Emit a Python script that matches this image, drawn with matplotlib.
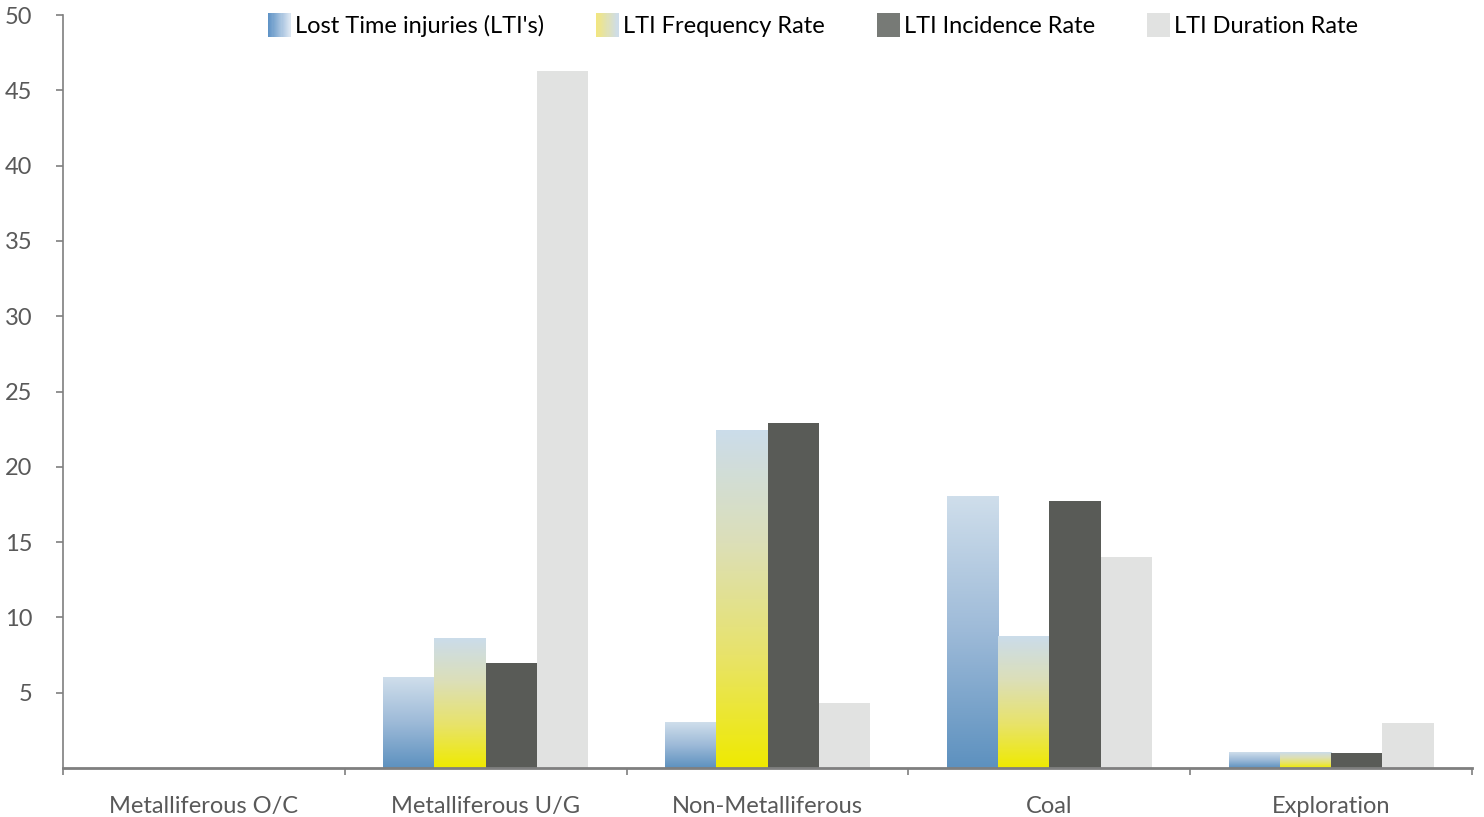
import matplotlib.pyplot as plt
import numpy as np
from matplotlib.colors import LinearSegmentedColormap
from matplotlib.legend_handler import HandlerBase
from matplotlib.patches import Rectangle

plt.rcParams['font.family'] = ['Lato', 'DejaVu Sans']

categories = ['Metalliferous O/C', 'Metalliferous U/G', 'Non-Metalliferous', 'Coal', 'Exploration']
series_names = ["Lost Time injuries (LTI's)", 'LTI Frequency Rate', 'LTI Incidence Rate', 'LTI Duration Rate']
lti = [0, 6.0, 3.0, 18.0, 1.0]
freq = [0, 8.6, 22.4, 8.7, 1.0]
incidence = [0, 7.0, 22.9, 17.7, 1.0]
duration = [0, 46.3, 4.3, 14.0, 3.0]

cmap_lti = LinearSegmentedColormap.from_list('lti', ['#5d91bf', '#9dbad8', '#cfdeeb'])
cmap_freq = LinearSegmentedColormap.from_list('freq', ['#efea00', '#e8e36a', '#dcdfb8', '#cbdcea'])
leg_lti = LinearSegmentedColormap.from_list('leg_lti', ['#5f93c6', '#dae5f1'])
leg_freq = LinearSegmentedColormap.from_list('leg_freq', ['#f2e680', '#cddcea'])
inc_color = '#595b57'
dur_color = '#e1e2e1'
text_gray = '#595959'
spine_gray = '#7f7f7f'


class GradientHandler(HandlerBase):
    def __init__(self, cmap):
        super().__init__()
        self.cmap = cmap

    def create_artists(self, legend, orig_handle, xdescent, ydescent, width, height, fontsize, trans):
        n = 20
        arts = []
        for k in range(n):
            r = Rectangle((-xdescent + width * k / n, -ydescent), width / n + 0.3, height,
                          facecolor=self.cmap(k / (n - 1)), edgecolor='none', transform=trans)
            arts.append(r)
        return arts


fig = plt.figure(figsize=(14.84, 8.17), dpi=100)
ax = fig.add_axes([63 / 1484, 49 / 817, 1409 / 1484, 753 / 817])

x = np.arange(len(categories))
w = 0.182
offsets = [-1.5 * w, -0.5 * w, 0.5 * w, 1.5 * w]

grad = np.linspace(0, 1, 256).reshape(-1, 1)
for vals, cmap, off in [(lti, cmap_lti, offsets[0]), (freq, cmap_freq, offsets[1])]:
    for xi, v in zip(x, vals):
        if v <= 0:
            continue
        ax.imshow(grad, cmap=cmap, origin='lower', aspect='auto',
                  extent=[xi + off - w / 2, xi + off + w / 2, 0, v], zorder=2)

ax.bar(x + offsets[2], incidence, w, color=inc_color, zorder=2)
ax.bar(x + offsets[3], duration, w, color=dur_color, zorder=2)

ax.set_xlim(-0.5, len(categories) - 0.5)
ax.set_ylim(0, 50)
ax.set_yticks(np.arange(5, 55, 5))
ax.set_xticks(x)
ax.set_xticklabels(categories)
ax.set_xticks(np.arange(-0.5, len(categories)), minor=True)
ax.tick_params(axis='x', which='major', length=0, pad=20, labelsize=17, labelcolor=text_gray)
ax.tick_params(axis='x', which='minor', length=5, width=1.2, color=spine_gray, direction='out')
ax.tick_params(axis='y', length=5, width=1.2, color=spine_gray, labelsize=17,
               labelcolor=text_gray, pad=17)
for s in ['top', 'right']:
    ax.spines[s].set_visible(False)
ax.spines['left'].set_color(spine_gray)
ax.spines['left'].set_linewidth(1.2)
ax.spines['bottom'].set_color(spine_gray)
ax.spines['bottom'].set_linewidth(2)

handles = [Rectangle((0, 0), 1, 1), Rectangle((0, 0), 1, 1),
           Rectangle((0, 0), 1, 1, facecolor='#777a76'), Rectangle((0, 0), 1, 1, facecolor=dur_color)]
leg = fig.legend(handles, series_names, loc='center left', bbox_to_anchor=(268 / 1484, 1 - 25 / 817),
                 ncol=4, frameon=False, fontsize=17, handlelength=0.95, handleheight=1.2,
                 handletextpad=0.2, columnspacing=2.2, borderaxespad=0, borderpad=0,
                 handler_map={handles[0]: GradientHandler(leg_lti),
                              handles[1]: GradientHandler(leg_freq)})

fig.savefig('out.png', dpi=100)
